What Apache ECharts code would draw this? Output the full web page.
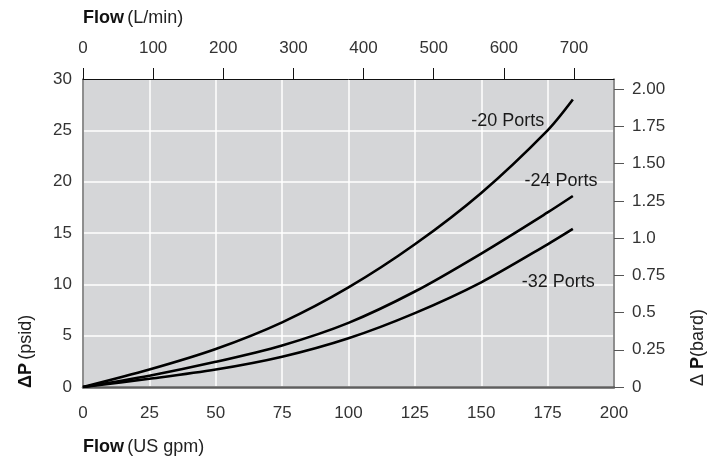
<!DOCTYPE html>
<html>
<head>
<meta charset="utf-8">
<script src="https://cdn.jsdelivr.net/npm/echarts@6/dist/echarts.min.js"></script>
<style>
html,body{margin:0;padding:0;background:#fff;}
#c{width:714px;height:461px;}
</style>
</head>
<body>
<div id="c"></div>
<script>
// ---- data (US gpm vs psid) ----
const flowGpm = [0, 25, 50, 75, 100, 125, 150, 175, 184.5];
const ports20 = [0, 1.7, 3.7, 6.3, 9.7, 13.9, 18.9, 25.0, 28.0];
const ports24 = [0, 1.1, 2.45, 4.05, 6.25, 9.3, 13.0, 17.0, 18.6];
const ports32 = [0, 0.8, 1.7, 2.95, 4.75, 7.2, 10.2, 13.9, 15.4];
const seriesNames = ['-20 Ports', '-24 Ports', '-32 Ports'];
const labelGpm = [160, 180, 179];
const labelPsi = [25.9, 20.1, 10.2];
const topTicks = [0, 100, 200, 300, 400, 500, 600, 700];
const barTicks = [0, 0.25, 0.5, 0.75, 1.0, 1.25, 1.5, 1.75, 2.0];
const barLabels = ['0', '0.25', '0.5', '0.75', '1.0', '1.25', '1.50', '1.75', '2.00'];
const GPM_TO_LPM = 3.78541;
const PSI_TO_BAR = 1 / 14.5038;

const FONT = "'Liberation Sans', Arial, sans-serif";
const chart = echarts.init(document.getElementById('c'), null, {renderer: 'canvas'});

function pairs(ys) { return flowGpm.map((x, i) => [x, ys[i]]); }
const allY = [ports20, ports24, ports32];

const series = allY.map((ys, i) => ({
  type: 'line',
  name: seriesNames[i],
  data: pairs(ys),
  smooth: 0.3,
  showSymbol: false,
  symbol: 'none',
  xAxisIndex: 0, yAxisIndex: 0,
  lineStyle: {color: '#000', width: 2.6},
  z: 5,
  markPoint: {
    symbol: 'circle', symbolSize: 0,
    silent: true,
    data: [{coord: [labelGpm[i], labelPsi[i]]}],
    label: {
      show: true, position: 'inside', formatter: seriesNames[i],
      color: '#1a1a1a', fontSize: 18, fontFamily: FONT
    }
  }
}));

const labelStyle = {color: '#333', fontSize: 17, fontFamily: FONT};
const titleRich = {
  b: {fontWeight: 'bold', fontSize: 18, fill: '#111', fontFamily: FONT},
  r: {fontSize: 18, fill: '#222', fontFamily: FONT}
};

chart.setOption({
  animation: false,
  backgroundColor: '#fff',
  grid: {left: 83, right: 100, top: 79, bottom: 74, show: true, backgroundColor: '#d5d6d8', borderWidth: 0},
  xAxis: [{
    type: 'value', position: 'bottom', min: 0, max: 200, interval: 25,
    axisLine: {show: true, lineStyle: {color: '#5e5e5e', width: 2.5}},
    axisTick: {show: false},
    splitLine: {show: true, lineStyle: {color: '#ffffff', width: 1.5}},
    axisLabel: Object.assign({margin: 18}, labelStyle)
  }, {
    type: 'value', position: 'top', min: 0, max: 200 * GPM_TO_LPM,
    axisLine: {show: true, onZero: false, lineStyle: {color: '#111', width: 1}},
    axisTick: {show: true, inside: false, length: 11, customValues: topTicks, lineStyle: {color: '#111', width: 1}},
    axisLabel: Object.assign({margin: 22, customValues: topTicks}, labelStyle),
    splitLine: {show: false}
  }],
  yAxis: [{
    type: 'value', position: 'left', min: 0, max: 30, interval: 5,
    axisLine: {show: true, lineStyle: {color: '#6a6a6a', width: 1.5}},
    axisTick: {show: false},
    splitLine: {show: true, lineStyle: {color: '#ffffff', width: 1.5}},
    axisLabel: Object.assign({margin: 11}, labelStyle)
  }, {
    type: 'value', position: 'right', min: 0, max: 30 * PSI_TO_BAR,
    axisLine: {show: true, onZero: false, lineStyle: {color: '#6a6a6a', width: 1.5}},
    axisTick: {show: true, inside: false, length: 10, customValues: barTicks, lineStyle: {color: '#555', width: 1}},
    axisLabel: Object.assign({
      margin: 18, customValues: barTicks,
      formatter: function (v) {
        const k = barTicks.findIndex(t => Math.abs(t - v) < 1e-6);
        return k >= 0 ? barLabels[k] : '';
      }
    }, labelStyle),
    splitLine: {show: false}
  }],
  graphic: [{
    type: 'text', left: 83, top: 9,
    style: {text: '{b|Flow} {r|(L/min)}', fontFamily: FONT, rich: titleRich}
  }, {
    type: 'text', left: 83, top: 438,
    style: {text: '{b|Flow} {r|(US gpm)}', fontFamily: FONT, rich: titleRich}
  }, {
    type: 'text', x: 26, y: 388, rotation: Math.PI / 2,
    style: {text: '{b|ΔP} {r|(psid)}', align: 'left', verticalAlign: 'middle', fontFamily: FONT, rich: titleRich}
  }, {
    type: 'text', x: 698, y: 386, rotation: Math.PI / 2,
    style: {text: '{r|Δ }{b|P}{r|(bard)}', align: 'left', verticalAlign: 'middle', fontFamily: FONT, rich: titleRich}
  }],
  series: series
});
</script>
</body>
</html>
